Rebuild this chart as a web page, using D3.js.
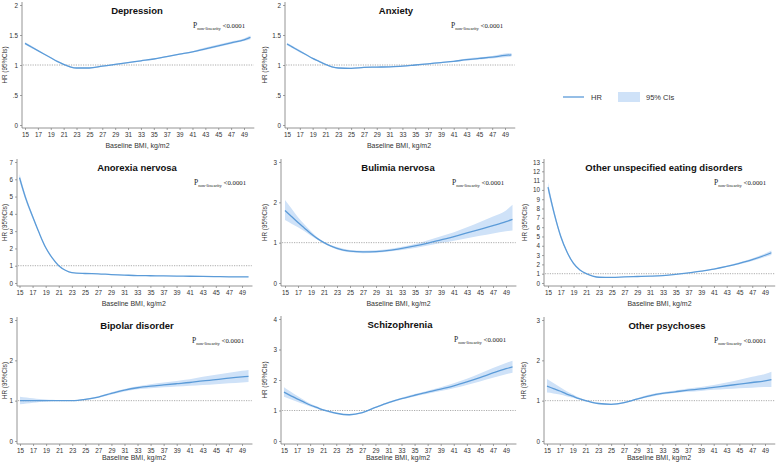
<!DOCTYPE html>
<html>
<head>
<meta charset="utf-8">
<script src="https://cdn.jsdelivr.net/npm/d3@7"></script>
<style>
  body { margin: 0; background: #fff; }
  svg { display: block; }
</style>
</head>
<body>
<script>
const WIDTH = 778;
const HEIGHT = 462;

// BMI points shared by all curves
const bmi = [15, 16, 17, 18, 19, 20, 21, 22, 23, 25, 27, 29, 31, 33, 35, 37, 39, 41, 43, 45, 47, 49, 50];
const xTicks = [15, 17, 19, 21, 23, 25, 27, 29, 31, 33, 35, 37, 39, 41, 43, 45, 47, 49];

const depHR = [1.36, 1.30, 1.24, 1.18, 1.12, 1.06, 1.01, 0.97, 0.95, 0.95, 0.98, 1.01, 1.04, 1.07, 1.10, 1.14, 1.18, 1.22, 1.27, 1.32, 1.37, 1.42, 1.46];
const depLo = [1.34, 1.28, 1.23, 1.17, 1.11, 1.05, 1.00, 0.96, 0.94, 0.94, 0.97, 1.00, 1.03, 1.06, 1.09, 1.13, 1.17, 1.21, 1.25, 1.30, 1.35, 1.40, 1.43];
const depHi = [1.38, 1.32, 1.25, 1.19, 1.13, 1.07, 1.02, 0.98, 0.96, 0.96, 0.99, 1.02, 1.05, 1.08, 1.11, 1.15, 1.19, 1.23, 1.29, 1.34, 1.39, 1.44, 1.49];

const anxHR = [1.35, 1.29, 1.23, 1.17, 1.11, 1.06, 1.01, 0.97, 0.95, 0.945, 0.96, 0.965, 0.97, 0.98, 1.00, 1.02, 1.04, 1.06, 1.09, 1.11, 1.13, 1.16, 1.17];
const anxLo = [1.33, 1.27, 1.21, 1.16, 1.10, 1.05, 1.00, 0.96, 0.94, 0.935, 0.95, 0.955, 0.96, 0.97, 0.99, 1.01, 1.03, 1.05, 1.07, 1.09, 1.11, 1.13, 1.14];
const anxHi = [1.37, 1.31, 1.25, 1.18, 1.12, 1.07, 1.02, 0.98, 0.96, 0.955, 0.97, 0.975, 0.98, 0.99, 1.01, 1.03, 1.05, 1.07, 1.11, 1.13, 1.15, 1.19, 1.20];

const anoHR = [6.1, 4.85, 3.85, 2.9, 2.05, 1.45, 1.0, 0.74, 0.6, 0.55, 0.53, 0.49, 0.46, 0.43, 0.42, 0.41, 0.40, 0.39, 0.38, 0.37, 0.36, 0.36, 0.35];
const anoLo = [5.9, 4.7, 3.75, 2.85, 2.0, 1.42, 0.98, 0.72, 0.59, 0.54, 0.52, 0.48, 0.45, 0.42, 0.41, 0.40, 0.39, 0.38, 0.37, 0.36, 0.34, 0.34, 0.33];
const anoHi = [6.3, 5.0, 3.95, 2.95, 2.1, 1.48, 1.02, 0.76, 0.61, 0.56, 0.54, 0.50, 0.47, 0.44, 0.43, 0.42, 0.41, 0.40, 0.39, 0.38, 0.38, 0.38, 0.37];

const bulHR = [1.80, 1.65, 1.50, 1.36, 1.22, 1.10, 1.00, 0.92, 0.86, 0.79, 0.77, 0.78, 0.81, 0.86, 0.92, 0.99, 1.07, 1.15, 1.24, 1.33, 1.42, 1.52, 1.58];
const bulLo = [1.56, 1.47, 1.38, 1.28, 1.17, 1.07, 0.98, 0.90, 0.83, 0.76, 0.74, 0.75, 0.78, 0.82, 0.87, 0.93, 0.99, 1.05, 1.11, 1.17, 1.23, 1.28, 1.30];
const bulHi = [2.06, 1.85, 1.63, 1.45, 1.28, 1.13, 1.02, 0.94, 0.89, 0.82, 0.80, 0.81, 0.84, 0.90, 0.97, 1.06, 1.16, 1.26, 1.38, 1.51, 1.65, 1.80, 1.94];

const uedHR = [10.3, 7.4, 5.0, 3.3, 2.1, 1.4, 1.0, 0.75, 0.62, 0.6, 0.66, 0.7, 0.74, 0.8, 0.92, 1.08, 1.28, 1.5, 1.78, 2.12, 2.5, 2.98, 3.25];
const uedLo = [9.8, 7.1, 4.8, 3.2, 2.0, 1.35, 0.97, 0.73, 0.60, 0.58, 0.64, 0.68, 0.72, 0.78, 0.90, 1.05, 1.24, 1.45, 1.71, 2.02, 2.37, 2.80, 3.02];
const uedHi = [10.8, 7.7, 5.2, 3.4, 2.2, 1.45, 1.03, 0.77, 0.64, 0.62, 0.68, 0.72, 0.76, 0.82, 0.94, 1.11, 1.32, 1.55, 1.85, 2.22, 2.64, 3.17, 3.50];

const bipHR = [1.00, 1.00, 1.00, 1.00, 1.00, 1.00, 1.00, 1.00, 1.00, 1.03, 1.09, 1.18, 1.26, 1.32, 1.36, 1.39, 1.42, 1.45, 1.49, 1.52, 1.56, 1.59, 1.60];
const bipLo = [0.91, 0.93, 0.95, 0.97, 0.98, 0.99, 0.99, 0.99, 0.99, 1.01, 1.07, 1.15, 1.23, 1.28, 1.31, 1.33, 1.35, 1.37, 1.39, 1.41, 1.43, 1.45, 1.46];
const bipHi = [1.10, 1.08, 1.06, 1.04, 1.03, 1.02, 1.01, 1.01, 1.01, 1.05, 1.11, 1.21, 1.29, 1.36, 1.41, 1.45, 1.49, 1.53, 1.59, 1.64, 1.69, 1.74, 1.76];

const schHR = [1.60, 1.49, 1.38, 1.28, 1.18, 1.10, 1.02, 0.96, 0.91, 0.86, 0.93, 1.10, 1.26, 1.39, 1.50, 1.60, 1.70, 1.81, 1.94, 2.08, 2.23, 2.37, 2.43];
const schLo = [1.45, 1.37, 1.29, 1.21, 1.13, 1.06, 0.99, 0.93, 0.89, 0.84, 0.91, 1.08, 1.23, 1.36, 1.46, 1.55, 1.64, 1.73, 1.84, 1.95, 2.07, 2.19, 2.24];
const schHi = [1.76, 1.62, 1.48, 1.35, 1.23, 1.14, 1.05, 0.99, 0.93, 0.88, 0.95, 1.12, 1.29, 1.42, 1.54, 1.65, 1.76, 1.89, 2.04, 2.21, 2.39, 2.56, 2.63];

const opsHR = [1.36, 1.30, 1.24, 1.17, 1.11, 1.05, 1.00, 0.96, 0.93, 0.91, 0.95, 1.04, 1.12, 1.18, 1.22, 1.26, 1.29, 1.33, 1.37, 1.41, 1.45, 1.49, 1.52];
const opsLo = [1.20, 1.18, 1.15, 1.11, 1.07, 1.03, 0.98, 0.94, 0.91, 0.89, 0.93, 1.02, 1.09, 1.15, 1.19, 1.22, 1.24, 1.27, 1.29, 1.31, 1.32, 1.34, 1.34];
const opsHi = [1.54, 1.44, 1.34, 1.24, 1.16, 1.08, 1.02, 0.98, 0.95, 0.93, 0.97, 1.06, 1.15, 1.21, 1.25, 1.30, 1.34, 1.39, 1.45, 1.52, 1.59, 1.66, 1.72];

const titles = ["Depression", "Anxiety", "Anorexia nervosa", "Bulimia nervosa",
  "Other unspecified eating disorders", "Bipolar disorder", "Schizophrenia", "Other psychoses"];
const yMaxes = [2, 2, 7, 3, 13, 3, 4, 3];
const yTickSteps = [0.5, 0.5, 1, 1, 1, 1, 1, 1];

const LINE = "#5b9bd8";
const BAND = "#cfe2f8";

const SVG = d3.select("body").append("svg")
  .attr("width", WIDTH)
  .attr("height", HEIGHT);

// panel frames: ax = y axis x, x15/x49 = pixel positions of ticks 15 and 49
// yl = x of the rotated y title, xt = baseline of the x title
const frames = [
  { ax: 22, x15: 25, x49: 244, top: 5, zero: 125, tx: 137, px: 193, yl: 7, xt: 148 },
  { ax: 285, x15: 287, x49: 505, top: 5, zero: 125, tx: 396, px: 451, yl: 267, xt: 148 },
  { ax: 17, x15: 19.5, x49: 242, top: 162, zero: 283, tx: 137, px: 194, yl: 7, xt: 306 },
  { ax: 281, x15: 285, x49: 506, top: 162, zero: 283, tx: 398, px: 452, yl: 267, xt: 306 },
  { ax: 544, x15: 548, x49: 765, top: 162, zero: 283, tx: 664, px: 714, yl: 527, xt: 306 },
  { ax: 17, x15: 20, x49: 242, top: 320, zero: 441, tx: 137, px: 192, yl: 7, xt: 460 },
  { ax: 281, x15: 284, x49: 506, top: 319, zero: 441, tx: 400, px: 454, yl: 267, xt: 460 },
  { ax: 544, x15: 547, x49: 765, top: 320, zero: 441, tx: 667, px: 714, yl: 526, xt: 460 }
];

const series = [
  [depHR, depLo, depHi], [anxHR, anxLo, anxHi], [anoHR, anoLo, anoHi], [bulHR, bulLo, bulHi],
  [uedHR, uedLo, uedHi], [bipHR, bipLo, bipHi], [schHR, schLo, schHi], [opsHR, opsLo, opsHi]
];

const fmt = (d) => (d === 0 ? "0" : String(d).replace(/^0\./, "."));

const dibujarPanel = (i) => {
  const f = frames[i];
  const [hr, lo, hi] = series[i];
  const x = d3.scaleLinear().domain([15, 49]).range([f.x15, f.x49]);
  const y = d3.scaleLinear().domain([0, yMaxes[i]]).range([f.zero, f.top]);
  const axisY = f.zero + 3;
  const g = SVG.append("g");

  const datos = bmi.map((b, k) => ({ b, hr: hr[k], lo: lo[k], hi: hi[k] }));

  // CI band
  g.append("path")
    .datum(datos)
    .attr("fill", BAND)
    .attr("d", d3.area().curve(d3.curveMonotoneX)
      .x((d) => x(d.b)).y0((d) => y(d.lo)).y1((d) => y(d.hi)));

  // reference line at HR = 1
  g.append("line")
    .attr("x1", f.ax + 1).attr("x2", x(50.5))
    .attr("y1", y(1)).attr("y2", y(1))
    .attr("stroke", "#8a8a8a").attr("stroke-width", 0.7)
    .attr("stroke-dasharray", "1.2,1.2");

  // HR line
  g.append("path")
    .datum(datos)
    .attr("fill", "none")
    .attr("stroke", LINE)
    .attr("stroke-width", 1.3)
    .attr("d", d3.line().curve(d3.curveMonotoneX).x((d) => x(d.b)).y((d) => y(d.hr)));

  // y axis
  const yAxis = d3.axisLeft(y)
    .tickValues(d3.range(0, yMaxes[i] + 1e-9, yTickSteps[i]))
    .tickFormat(fmt).tickSize(2).tickPadding(2);
  const ya = g.append("g").attr("transform", `translate(${f.ax},0)`).call(yAxis);
  ya.select(".domain").attr("d", `M0,${f.top - 3}V${axisY}`);

  // x axis
  const xAxis = d3.axisBottom(x).tickValues(xTicks).tickSize(2).tickPadding(3);
  const xa = g.append("g").attr("transform", `translate(0,${axisY})`).call(xAxis);
  xa.select(".domain").attr("d", `M${f.ax},0H${x(50.6)}`);

  g.selectAll(".domain").attr("stroke", "#7a7a7a").attr("stroke-width", 0.8);
  g.selectAll(".tick line").attr("stroke", "#7a7a7a").attr("stroke-width", 0.7);
  g.selectAll(".tick text")
    .attr("font-family", "Liberation Sans, Arial, sans-serif")
    .attr("font-size", 6.3).attr("fill", "#333");

  // axis titles
  g.append("text")
    .attr("x", (f.x15 + f.x49) / 2 + 3).attr("y", f.xt)
    .attr("text-anchor", "middle")
    .attr("font-family", "Liberation Sans, Arial, sans-serif")
    .attr("font-size", 7).attr("fill", "#333")
    .text("Baseline BMI, kg/m2");

  g.append("text")
    .attr("transform", `translate(${f.yl},${(f.top + f.zero) / 2}) rotate(-90)`)
    .attr("text-anchor", "middle")
    .attr("font-family", "Liberation Sans, Arial, sans-serif")
    .attr("font-size", 6.3).attr("fill", "#333")
    .text("HR (95%CIs)");

  // title
  g.append("text")
    .attr("x", f.tx).attr("y", f.top + 9)
    .attr("text-anchor", "middle")
    .attr("font-family", "Liberation Sans, Arial, sans-serif")
    .attr("font-weight", "bold")
    .attr("font-size", 9.5).attr("fill", "#111")
    .text(titles[i]);

  // P non-linearity
  const p = g.append("text")
    .attr("x", f.px).attr("y", f.top + 23)
    .attr("font-family", "Liberation Serif, Times New Roman, serif")
    .attr("fill", "#222");
  p.append("tspan").attr("font-size", 7.5).text("P");
  p.append("tspan").attr("font-size", 4.6).attr("dy", 1.5).text("non-linearity");
  p.append("tspan").attr("font-size", 6.8).attr("dy", -1.5).text(" <0.0001");
};

titles.forEach((t, i) => dibujarPanel(i));

// legend
const leyenda = SVG.append("g").attr("font-family", "Liberation Sans, Arial, sans-serif")
  .attr("font-size", 7.5).attr("fill", "#333");
leyenda.append("line").attr("x1", 563).attr("x2", 584).attr("y1", 97).attr("y2", 97)
  .attr("stroke", LINE).attr("stroke-width", 1.3);
leyenda.append("text").attr("x", 591).attr("y", 100).text("HR");
leyenda.append("rect").attr("x", 618).attr("y", 92).attr("width", 22).attr("height", 10)
  .attr("fill", BAND);
leyenda.append("text").attr("x", 646).attr("y", 100).text("95% CIs");
</script>
</body>
</html>
